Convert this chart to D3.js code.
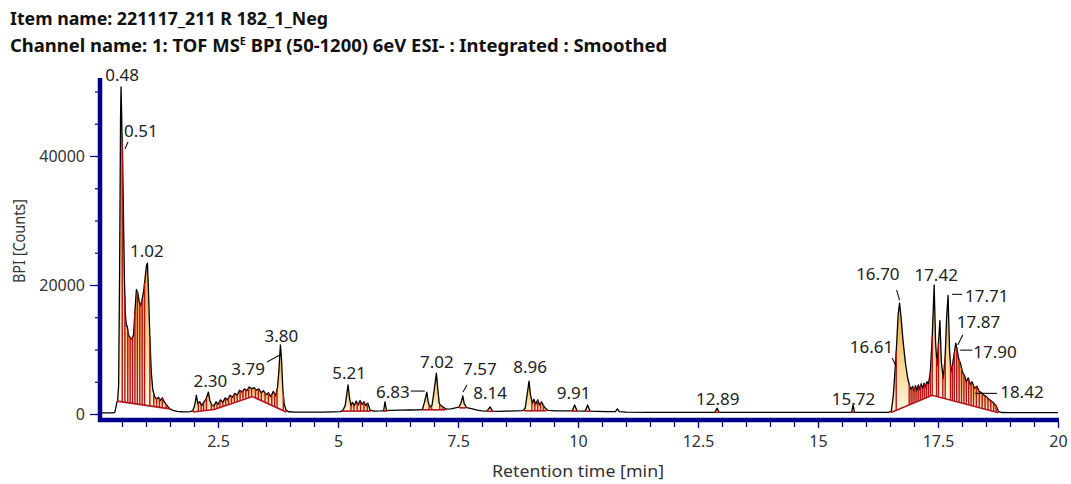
<!DOCTYPE html>
<html><head><meta charset="utf-8">
<script src="https://cdn.jsdelivr.net/npm/d3@7"></script>
<style>
body{margin:0;background:#fff;}
svg{display:block;font-family:"Noto Sans","Open Sans",sans-serif;}
</style></head><body>
<svg id="chart" width="1071" height="484"></svg>
<script>
// ---------------- DATA ----------------
const titleItem = "Item name: 221117_211 R 182_1_Neg";
const titleChannelA = "Channel name: 1: TOF MS";
const titleChannelSup = "E";
const titleChannelB = " BPI (50-1200) 6eV ESI- : Integrated : Smoothed";
const xAxisTitle = "Retention time [min]";
const yAxisTitle = "BPI [Counts]";
const xTickValues = [2.5, 5, 7.5, 10, 12.5, 15, 17.5, 20];
const xTickLabels = ["2.5", "5", "7.5", "10", "12.5", "15", "17.5", "20"];
const yTickValues = [0, 20000, 40000];
const yTickLabels = ["0", "20000", "40000"];

// chromatogram trace: [retention time (min), BPI counts]
const tracePoints = [
[0.08,180],[0.15,170],[0.22,190],[0.30,180],[0.35,260],[0.37,900],[0.39,1700],[0.41,2100],[0.43,4500],[0.45,22000],[0.47,46000],[0.48,50700],[0.49,47500],[0.50,43500],[0.51,41000],[0.53,31000],[0.55,21000],[0.57,15500],[0.59,13800],[0.61,13600],[0.63,12500],[0.65,12000],[0.68,11800],[0.71,11600],[0.74,12300],[0.77,16000],[0.80,19300],[0.83,18800],[0.86,17300],[0.89,16800],[0.92,17800],[0.95,19000],[0.98,21000],[1.01,23000],[1.03,23400],[1.05,19500],[1.08,12000],[1.11,6500],[1.14,3800],[1.18,2700],[1.22,2300],[1.26,2600],[1.30,2100],[1.34,2500],[1.38,1900],[1.42,1500],[1.46,1100],[1.50,800],[1.56,550],[1.65,420],[1.75,350],[1.85,330],[1.92,360],[1.97,480],
[2.01,1200],[2.05,2900],[2.08,1600],[2.12,1900],[2.16,1300],[2.20,1800],[2.25,2300],[2.30,3400],[2.33,2100],[2.37,1400],[2.42,1300],[2.46,1900],[2.50,1500],[2.55,2200],[2.60,1800],[2.65,2500],[2.70,2200],[2.75,2900],[2.80,2600],[2.85,3200],[2.90,2900],[2.95,3700],[3.00,3400],[3.05,3900],[3.10,3600],[3.15,4200],[3.20,3900],[3.25,4100],[3.30,3700],[3.35,3900],[3.40,3300],[3.45,3600],[3.50,3000],[3.55,3300],[3.60,2700],[3.65,3500],[3.70,2800],[3.74,4200],[3.77,6800],[3.80,10700],[3.82,9000],[3.85,4000],[3.88,1500],[3.92,600],[3.97,350],
[4.10,300],[4.30,280],[4.50,300],[4.70,290],[4.90,330],[5.05,380],[5.10,550],[5.15,1300],[5.19,3500],[5.21,4500],[5.24,2500],[5.27,1300],[5.30,1800],[5.34,1300],[5.38,2000],[5.42,1400],[5.46,2100],[5.50,1500],[5.54,1900],[5.58,1300],[5.62,1700],[5.67,600],[5.75,450],[5.90,480],[5.95,500],[5.98,1900],[6.01,520],[6.10,550],[6.30,600],[6.50,620],[6.70,650],
[6.76,700],[6.80,1800],[6.85,3400],[6.88,1800],[6.92,1100],[6.96,1400],[7.00,3500],[7.05,6350],[7.08,3800],[7.11,1600],[7.15,1300],[7.20,1000],[7.26,750],[7.35,800],[7.45,950],[7.52,1050],[7.56,1700],[7.60,2800],[7.63,1600],[7.68,1000],[7.78,850],[7.90,600],[8.00,480],[8.10,450],[8.17,1100],[8.22,450],[8.35,420],[8.50,450],[8.70,480],[8.85,520],
[8.90,900],[8.94,3000],[8.98,5100],[9.01,3000],[9.05,1600],[9.08,2300],[9.12,1500],[9.16,2200],[9.20,1400],[9.24,1900],[9.28,1300],[9.32,900],[9.38,550],[9.55,480],[9.75,470],[9.88,480],[9.93,1400],[9.98,480],[10.10,450],[10.15,460],[10.20,1400],[10.25,460],[10.40,420],[10.60,380],[10.78,380],[10.82,800],[10.86,380],[11.0,300],[11.5,250],[12.0,240],[12.5,250],[12.85,260],[12.90,900],[12.94,260],[13.5,250],[14.0,240],[14.5,250],[15.0,260],[15.5,260],[15.70,270],[15.73,1400],[15.76,270],[16.0,260],[16.3,250],[16.48,260],
[16.53,500],[16.57,3000],[16.61,7300],[16.64,11000],[16.67,15500],[16.70,17200],[16.73,15000],[16.77,11500],[16.82,8000],[16.87,5500],[16.91,4300],[16.94,3800],[16.97,4300],[17.00,3500],[17.03,4400],[17.06,3600],[17.09,4500],[17.12,3800],[17.15,4700],[17.18,3900],[17.21,4800],[17.24,4200],[17.27,5000],[17.30,4600],[17.34,6500],[17.38,12000],[17.42,20000],[17.45,11000],[17.48,7500],[17.51,11000],[17.54,14500],[17.57,8000],[17.61,5500],[17.65,9000],[17.68,15000],[17.71,18400],[17.74,10000],[17.77,6500],[17.80,7500],[17.84,9500],[17.87,11000],[17.90,9900],[17.93,8600],[17.97,7800],[18.01,6500],[18.05,6000],[18.09,5000],[18.13,5600],[18.17,4600],[18.21,5000],[18.26,4000],[18.31,4300],[18.36,3500],[18.41,3300],[18.46,2900],[18.51,2700],[18.56,2300],[18.61,2000],[18.66,1700],[18.71,1300],[18.76,400],[18.82,230],[19.0,220],[19.3,210],[19.6,220],[20.0,210]
];

// integration baselines: polylines of [time, counts]
const baselines = [
  [[0.40,2000],[1.50,800]],
  [[1.98,300],[2.42,700],[3.22,2700],[3.92,300]],
  [[5.08,450],[5.68,450]],
  [[5.95,450],[6.01,450]],
  [[6.76,650],[7.24,650]],
  [[7.53,950],[7.66,950]],
  [[8.11,420],[8.23,420]],
  [[8.88,500],[9.34,500]],
  [[9.88,450],[9.99,450]],
  [[10.15,450],[10.26,450]],
  [[12.85,260],[12.95,260]],
  [[15.70,270],[15.76,270]],
  [[16.52,250],[17.38,2900],[18.76,200]]
];

// peak boundaries (drop lines), min
const dropTimes = [
  0.40,0.505,0.56,0.62,0.67,0.72,0.77,0.82,0.87,0.92,0.97,1.08,1.16,1.22,1.28,1.34,1.42,1.50,
  1.98,2.09,2.15,2.20,2.26,2.36,2.42,2.48,2.54,2.60,2.66,2.72,2.78,2.84,2.90,2.96,3.02,3.08,3.14,3.20,3.28,3.34,3.40,3.48,3.55,3.62,3.68,3.73,3.86,3.92,
  5.08,5.27,5.33,5.40,5.47,5.54,5.61,5.68,
  5.95,6.01,
  6.76,6.90,6.95,7.12,7.18,7.24,
  7.53,7.66,
  8.11,8.23,
  8.88,9.04,9.10,9.16,9.22,9.28,9.34,
  9.88,9.99,10.15,10.26,
  12.85,12.95,
  15.70,15.76,
  16.52,16.63,16.90,16.94,16.98,17.02,17.06,17.10,17.14,17.18,17.22,17.26,17.30,17.34,17.38,17.47,17.51,17.60,17.65,17.76,17.80,17.84,17.89,17.94,17.99,18.04,18.09,18.14,18.19,18.24,18.30,18.36,18.42,18.48,18.54,18.60,18.66,18.71,18.76
];

// labelled peaks: retention time and apex counts
const peakTimes = [0.48,0.51,1.02,2.30,3.79,3.80,5.21,6.83,7.02,7.57,8.14,8.96,9.91,12.89,15.72,16.61,16.70,17.42,17.71,17.87,17.90,18.42];
const peakApex  = [50700,41000,23400,3400,9000,10700,4500,3400,6350,2800,1100,5100,1400,900,1500,7300,17200,20000,18400,11000,9900,3200];

// ---------------- LAYOUT (label placement) ----------------
// [dx, dy, anchor, leader(x1,y1,x2,y2) relative to apex or null]
const labelLayout = [
  [1,-6,"middle",null],
  [1.5,-12.5,"start",[5.5,-7.5,2.5,-0.5]],
  [0,-6,"middle",null],
  [2,-5,"middle",null],
  [-15,19,"end",[-13,6,0,-1]],
  [1,-3,"middle",null],
  [1,-6,"middle",null],
  [-16,6,"end",[-15,-1,-1,-1]],
  [2,-5,"middle",null],
  [1.6,-21,"start",[5.6,-11,1.6,-4]],
  [1.5,-8,"middle",null],
  [2,-8,"middle",null],
  [0,-6,"middle",null],
  [1,-3,"middle",null],
  [1,1,"middle",null],
  [-2,-14,"end",[-3,-9,1,0]],
  [0,-23,"end",[-3,-13,0,-3]],
  [2,-4,"middle",null],
  [17,7,"start",[4,-1,14,-1]],
  [1,-15,"start",[7,-8,2,2]],
  [16,8,"start",[3,0,15,0]],
  [18,5,"start",[-7,0,15,0]]
];

// ---------------- DRAW ----------------
const svg = d3.select("#chart");
const navy = "#00008b";
const red = "#b3141c";
const x = d3.scaleLinear().domain([0, 20]).range([98, 1058]);
const y = d3.scaleLinear().domain([0, 20000]).range([414, 285]);

const defs = svg.append("defs");
const grad = defs.append("linearGradient").attr("id", "peakGrad")
  .attr("x1", 0).attr("y1", 0).attr("x2", 0).attr("y2", 1);
grad.append("stop").attr("offset", "0%").attr("stop-color", "#f3a53a");
grad.append("stop").attr("offset", "55%").attr("stop-color", "#f9d48a");
grad.append("stop").attr("offset", "100%").attr("stop-color", "#fff6dc");

const tT = tracePoints.map(d => d[0]);
function traceAt(t) {
  const i = d3.bisectLeft(tT, t);
  if (i <= 0) return tracePoints[0][1];
  if (i >= tT.length) return tracePoints[tT.length - 1][1];
  const a = tracePoints[i - 1], b = tracePoints[i];
  return a[1] + (b[1] - a[1]) * (t - a[0]) / (b[0] - a[0]);
}
function baseAt(bl, t) {
  for (let i = 1; i < bl.length; i++) {
    if (t <= bl[i][0] + 1e-9) {
      const a = bl[i - 1], b = bl[i];
      return a[1] + (b[1] - a[1]) * (t - a[0]) / (b[0] - a[0]);
    }
  }
  return bl[bl.length - 1][1];
}
function clusterOf(t) {
  return baselines.find(bl => t >= bl[0][0] - 1e-9 && t <= bl[bl.length - 1][0] + 1e-9);
}

// peak fills
const gFill = svg.append("g");
const area = d3.line().x(d => x(d[0])).y(d => y(d[1]));
baselines.forEach(bl => {
  const t0 = bl[0][0], t1 = bl[bl.length - 1][0];
  const drops = dropTimes.filter(t => t >= t0 - 1e-9 && t <= t1 + 1e-9).sort((a, b) => a - b);
  for (let k = 0; k < drops.length - 1; k++) {
    const a = drops[k], b = drops[k + 1];
    const pts = [[a, traceAt(a)]];
    tracePoints.forEach(p => { if (p[0] > a && p[0] < b) pts.push(p); });
    pts.push([b, traceAt(b)]);
    const back = [[b, baseAt(bl, b)]];
    bl.forEach(p => { if (p[0] > a && p[0] < b) back.push(p); });
    back.sort((p, q) => q[0] - p[0]);
    back.push([a, baseAt(bl, a)]);
    gFill.append("path").attr("d", area(pts.concat(back)) + "Z")
      .attr("fill", "url(#peakGrad)").attr("stroke", "none");
  }
});

// trace
svg.append("path").datum(tracePoints)
  .attr("d", d3.line().x(d => x(d[0])).y(d => y(d[1])))
  .attr("fill", "none").attr("stroke", "#000").attr("stroke-width", 1.3)
  .attr("stroke-linejoin", "round");

// baselines
svg.append("g").selectAll("path").data(baselines).join("path")
  .attr("d", d3.line().x(d => x(d[0])).y(d => y(d[1])))
  .attr("fill", "none").attr("stroke", red).attr("stroke-width", 1.6);

// drop lines
svg.append("g").selectAll("line").data(dropTimes).join("line")
  .attr("x1", d => x(d)).attr("x2", d => x(d))
  .attr("y1", d => y(baseAt(clusterOf(d), d)))
  .attr("y2", d => y(traceAt(d)))
  .attr("stroke", red).attr("stroke-width", 1.4);

// axes
const gxMinor = svg.append("g").attr("transform", "translate(0,422)")
  .call(d3.axisBottom(x).tickValues(d3.range(0.5, 20.01, 0.5)).tickSize(5).tickFormat(""));
const gxMajor = svg.append("g").attr("transform", "translate(0,422)")
  .call(d3.axisBottom(x).tickValues(xTickValues).tickSize(6).tickPadding(8)
    .tickFormat((d, i) => xTickLabels[i]));
const gyMinor = svg.append("g").attr("transform", "translate(98,0)")
  .call(d3.axisLeft(y).tickValues(d3.range(0, 50001, 5000)).tickSize(3).tickFormat(""));
const gyMajor = svg.append("g").attr("transform", "translate(98,0)")
  .call(d3.axisLeft(y).tickValues(yTickValues).tickSize(8).tickPadding(5)
    .tickFormat((d, i) => yTickLabels[i]));
[gxMinor, gxMajor, gyMinor, gyMajor].forEach(g => {
  g.select(".domain").remove();
  g.selectAll(".tick line").attr("stroke", navy).attr("stroke-width", 1.2);
  g.selectAll(".tick text").attr("fill", "#333").attr("font-size", 16)
    .attr("font-family", "'Noto Sans', sans-serif");
});
// thick axis lines
svg.append("line").attr("x1", 100).attr("x2", 100).attr("y1", 78).attr("y2", 422)
  .attr("stroke", navy).attr("stroke-width", 4.5);
svg.append("line").attr("x1", 98).attr("x2", x(20) + 1).attr("y1", 420).attr("y2", 420)
  .attr("stroke", navy).attr("stroke-width", 4.5);

// axis titles
svg.append("text").attr("x", 578).attr("y", 477).attr("text-anchor", "middle")
  .attr("font-size", 16).attr("fill", "#333")
  .attr("textLength", 172).attr("lengthAdjust", "spacingAndGlyphs").text(xAxisTitle);
svg.append("text").attr("transform", "translate(25,241) rotate(-90)").attr("text-anchor", "middle")
  .attr("font-size", 15.5).attr("fill", "#333")
  .attr("textLength", 84).attr("lengthAdjust", "spacingAndGlyphs").text(yAxisTitle);

// titles
svg.append("text").attr("x", 10).attr("y", 25).attr("font-size", 17).attr("font-weight", "bold")
  .attr("fill", "#111").attr("textLength", 318).attr("lengthAdjust", "spacingAndGlyphs").text(titleItem);
const t2 = svg.append("text").attr("x", 10).attr("y", 52).attr("font-size", 17).attr("font-weight", "bold")
  .attr("fill", "#111");
t2.append("tspan").text(titleChannelA);
t2.append("tspan").attr("dy", -7).attr("font-size", 10).text(titleChannelSup);
t2.append("tspan").attr("dy", 7).text(titleChannelB);
// fit channel line to reference width
const w2 = t2.node().getComputedTextLength();
t2.attr("transform", `translate(10,0) scale(${658 / w2},1) translate(-10,0)`);

// peak labels
const gLab = svg.append("g");
peakTimes.forEach((t, i) => {
  const px = x(t), py = y(peakApex[i]);
  const L = labelLayout[i];
  if (L[3]) {
    gLab.append("line").attr("x1", px + L[3][0]).attr("y1", py + L[3][1])
      .attr("x2", px + L[3][2]).attr("y2", py + L[3][3])
      .attr("stroke", "#111").attr("stroke-width", 1.1);
  }
  gLab.append("text").attr("x", px + L[0]).attr("y", py + L[1])
    .attr("text-anchor", L[2]).attr("font-size", 17).attr("fill", "#222")
    .text(t.toFixed(2));
});
</script>
</body></html>
